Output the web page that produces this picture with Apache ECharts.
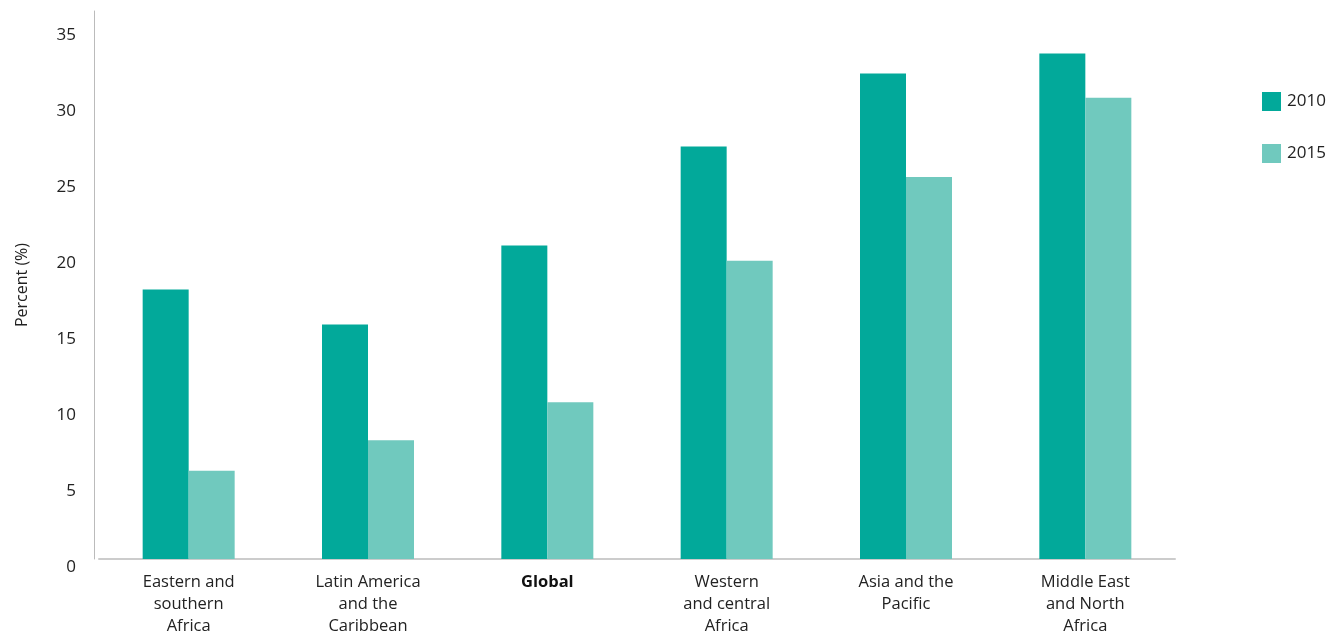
<!DOCTYPE html>
<html>
<head>
<meta charset="utf-8">
<script src="https://cdn.jsdelivr.net/npm/echarts@6/dist/echarts.min.js"></script>
<style>
html,body{margin:0;padding:0;background:#fff;}
#chart{width:1328px;height:634px;}
</style>
</head>
<body>
<div id="chart"></div>
<script>
const categories = ['Eastern and\nsouthern\nAfrica', 'Latin America\nand the\nCaribbean', 'Global', 'Western\nand central\nAfrica', 'Asia and the\nPacific', 'Middle East\nand North\nAfrica'];
const seriesNames = ['2010', '2015'];
const values2010 = [17.7, 15.4, 20.6, 27.1, 31.9, 33.2];
const values2015 = [5.8, 7.8, 10.3, 19.6, 25.1, 30.3];
const yTicks = { min: 0, max: 36, interval: 5 };

const chart = echarts.init(document.getElementById('chart'));
const font = '"Open Sans", "Noto Sans", sans-serif';
chart.setOption({
  animation: false,
  textStyle: { fontFamily: font },
  grid: { left: 99, right: 153, top: 11, bottom: 75, containLabel: false, outerBoundsMode: 'none' },
  legend: {
    orient: 'vertical', left: 1257, top: 87,
    itemWidth: 19, itemHeight: 19, itemGap: 33,
    icon: 'rect',
    textStyle: { fontSize: 17, color: '#222', fontFamily: font, padding: [0,0,0,1] },
    data: seriesNames
  },
  xAxis: {
    type: 'category',
    data: categories,
    axisLine: { lineStyle: { color: '#cccccc', width: 2 } },
    axisTick: { show: false },
    axisLabel: {
      interval: 0, margin: 12, color: '#222', fontSize: 16.5, lineHeight: 22, fontFamily: font,
      formatter: v => v === 'Global' ? '{b|Global}' : v,
      rich: { b: { fontWeight: 'bold', fontSize: 16.5, lineHeight: 22, color: '#111', fontFamily: font } }
    }
  },
  yAxis: {
    type: 'value',
    min: yTicks.min, max: yTicks.max, interval: yTicks.interval,
    offset: 5,
    name: 'Percent (%)', nameLocation: 'middle', nameGap: 64,
    nameTextStyle: { fontSize: 16, color: '#222', fontFamily: font },
    axisLine: { show: true, lineStyle: { color: '#bbbbbb', width: 1 } },
    axisTick: { show: false },
    splitLine: { show: false },
    axisLabel: { showMaxLabel: false, margin: 18, color: '#222', fontSize: 17, verticalAlign: 'top', fontFamily: font }
  },
  series: [
    { name: seriesNames[0], type: 'bar', data: values2010, barWidth: 46, barGap: '0%', itemStyle: { color: '#02a99a' } },
    { name: seriesNames[1], type: 'bar', data: values2015, barWidth: 46, barGap: '0%', itemStyle: { color: '#70c9be' } }
  ]
});
</script>
</body>
</html>
